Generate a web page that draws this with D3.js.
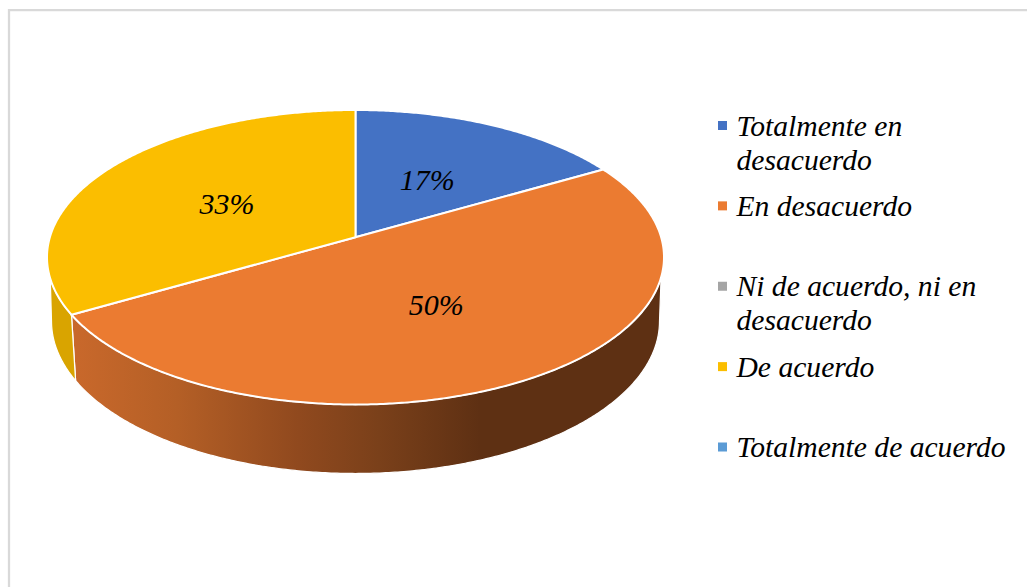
<!DOCTYPE html>
<html>
<head>
<meta charset="utf-8">
<script src="https://cdn.jsdelivr.net/npm/d3@7"></script>
<style>
html, body { margin: 0; padding: 0; background: #fff; }
svg { display: block; }
text { font-family: "Liberation Serif", serif; font-style: italic; fill: #000; }
</style>
</head>
<body>
<svg width="1027" height="587"></svg>
<script>
const categories = ['Totalmente en desacuerdo', 'En desacuerdo', 'Ni de acuerdo, ni en desacuerdo', 'De acuerdo', 'Totalmente de acuerdo'];
const shares = [16.67, 50, 0, 33.33, 0];
const colors = ['#4472c4', '#eb7b31', '#a5a5a5', '#fbbe00', '#5b9bd5'];
const sideColors = ['#2f4f88', '#a5561f', '#737373', '#d9a400', '#3f6c94'];
const legendLines = [['Totalmente en', 'desacuerdo'], ['En desacuerdo'], ['Ni de acuerdo, ni en', 'desacuerdo'], ['De acuerdo'], ['Totalmente de acuerdo']];

let svg = d3.select('svg');

// chart frame, only the top and left edges are inside the picture
svg.append('path')
	.attr('d', 'M9,587V10H1027')
	.attr('fill', 'none')
	.attr('stroke', '#d9d9d9')
	.attr('stroke-width', 2.25);

// pie top is an ellipse, the apex sits above its centre because of the perspective
let tilt = 20 / 147;
let shrink = Math.sqrt(1 - tilt * tilt);
let topX = d3.scaleLinear().domain([-1, 1]).range([47, 664]);
let topY = d3.scaleLinear().domain([1, -1]).range([110, 404.5]);
let baseX = d3.scaleLinear().domain([-1, 1]).range([51.5, 659.5]);
let baseY = d3.scaleLinear().domain([1, -1]).range([169, 473.5]);

function project (angle, r) {
	let x = r * Math.sin(angle);
	let y = r * Math.cos(angle);
	let d = 1 + tilt * y;
	return [x * shrink / d, (y + tilt) / d];
}

function angles (a0, a1) {
	let out = d3.range(a0, a1, Math.PI / 360);
	out.push(a1);
	return out;
}

let pie = d3.pie().sort(null).value(d => d);
let slices = pie(shares).map((s, i) => ({...s, index: i})).filter(s => s.value > 0);

let lineFn = d3.line();

let defs = svg.append('defs');
let grad = defs.append('linearGradient')
	.attr('id', 'orangeSide')
	.attr('gradientUnits', 'userSpaceOnUse')
	.attr('x1', 77).attr('x2', 480).attr('y1', 0).attr('y2', 0);
grad.selectAll('stop')
	.data([[0, '#c8682b'], [0.25, '#b45f26'], [0.55, '#90491e'], [0.75, '#7a401a'], [1, '#5e3013']])
	.enter()
	.append('stop')
	.attr('offset', d => d[0])
	.attr('stop-color', d => d[1]);

// side walls
slices.forEach(function(s) {
	let pts = angles(s.startAngle, s.endAngle).map(a => project(a, 1));
	let upper = pts.filter(p => p[1] <= -tilt).map(p => [topX(p[0]), topY(p[1])]);
	let lower = pts.filter(p => p[1] <= 0).map(p => [baseX(p[0]), baseY(p[1])]);
	if (upper.length < 2) return;
	svg.append('path')
		.attr('class', 'side')
		.attr('d', lineFn(upper.concat(lower.reverse())) + 'Z')
		.attr('fill', s.index == 1 ? 'url(#orangeSide)' : sideColors[s.index])
		.attr('stroke', '#fff')
		.attr('stroke-width', 1.25)
		.attr('stroke-linejoin', 'round');
});

// top face
svg.selectAll('.slice')
	.data(slices)
	.enter()
	.append('path')
	.attr('class', 'slice')
	.attr('d', function(s) {
		let rim = angles(s.startAngle, s.endAngle).map(a => project(a, 1));
		let apex = project(0, 0);
		return lineFn([apex].concat(rim).map(p => [topX(p[0]), topY(p[1])])) + 'Z';
	})
	.attr('fill', s => colors[s.index])
	.attr('stroke', '#fff')
	.attr('stroke-width', 2)
	.attr('stroke-linejoin', 'round');

// percent labels
let total = d3.sum(shares);
let pct = d3.format('.0%');
svg.selectAll('.pct')
	.data(slices)
	.enter()
	.append('text')
	.attr('class', 'pct')
	.attr('x', s => topX(project((s.startAngle + s.endAngle) / 2, 0.5)[0]))
	.attr('y', s => topY(project((s.startAngle + s.endAngle) / 2, 0.5)[1]))
	.attr('dx', -0.5)
	.attr('dy', 11.5)
	.attr('text-anchor', 'middle')
	.attr('font-size', 30)
	.text(s => pct(s.value / total));

// legend
let legendY = d3.scalePoint().domain(categories).range([125.5, 447]);
let legend = svg.selectAll('.legend')
	.data(categories)
	.enter()
	.append('g')
	.attr('class', 'legend')
	.attr('transform', d => 'translate(718,' + legendY(d) + ')');

legend.append('rect')
	.attr('x', 0)
	.attr('y', -4.5)
	.attr('width', 9)
	.attr('height', 9)
	.attr('fill', (d, i) => colors[i]);

legend.each(function(d, i) {
	d3.select(this).selectAll('text')
		.data(legendLines[i])
		.enter()
		.append('text')
		.attr('x', 18.5)
		.attr('y', (t, j) => 10 + j * 34)
		.attr('font-size', 29.6)
		.text(t => t);
});
</script>
</body>
</html>
